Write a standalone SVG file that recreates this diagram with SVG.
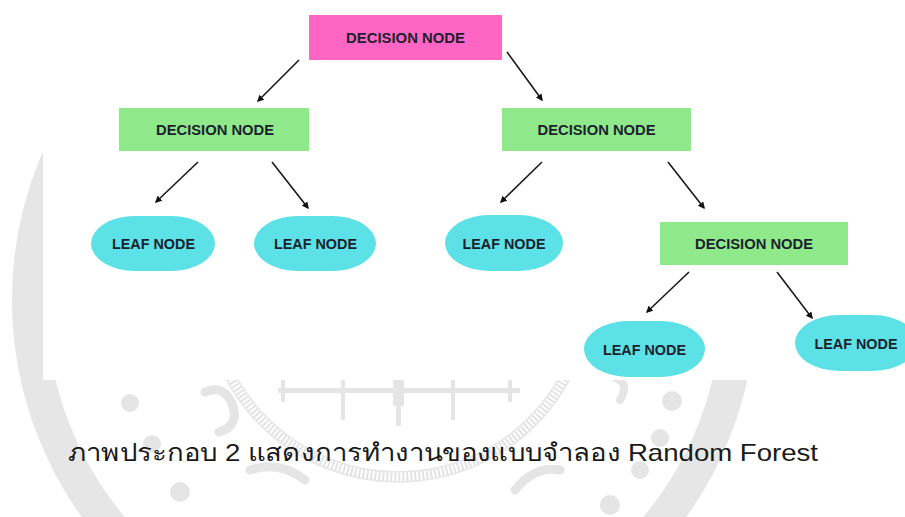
<svg xmlns="http://www.w3.org/2000/svg" width="905" height="517" viewBox="0 0 905 517">
  <style>
    .label { font-family: "Liberation Sans", Arial, sans-serif; font-weight: bold; font-size: 14.5px; fill: #1c1f2e; text-anchor: middle; }
    .decision { fill: #8fe98b; }
    .root { fill: #ff66c4; }
    .leaf { fill: #5ce1e6; }
    .edge { stroke: #1a1a1a; stroke-width: 1.6; fill: none; marker-end: url(#head); }
    .seal { fill: #e5e5e5; }
    .seal-stroke { fill: none; stroke: #e5e5e5; stroke-linecap: round; }
    .caption { font-family: "Liberation Sans", "Noto Sans", "DejaVu Sans", sans-serif; font-size: 24px; fill: #1a1a1a; }
  </style>
  <defs>
    <marker id="head" viewBox="0 0 10 10" refX="8" refY="5" markerWidth="7" markerHeight="7" markerUnits="userSpaceOnUse" orient="auto">
      <path d="M0,0 L10,5 L0,10 z" fill="#111"/>
    </marker>
  </defs>

  <rect width="905" height="517" fill="#ffffff"/>

  <!-- faint seal in the page background -->
  <g id="seal">
    <circle cx="384" cy="300" r="355" fill="none" stroke="#e6e6e6" stroke-width="34"/>
    <circle cx="398" cy="287" r="190" fill="none" stroke="#e3e3e3" stroke-width="9" stroke-dasharray="2 2"/>
    <circle cx="398" cy="287" r="185" fill="none" stroke="#e6e6e6" stroke-width="1.5"/>
    <circle cx="398" cy="287" r="195" fill="none" stroke="#e6e6e6" stroke-width="1.5"/>
    <rect class="seal" x="278" y="388" width="242" height="5"/>
    <rect class="seal" x="281" y="376" width="4" height="26"/>
    <rect class="seal" x="341" y="376" width="4" height="44"/>
    <rect class="seal" x="393" y="376" width="11" height="30"/>
    <rect class="seal" x="396" y="404" width="5" height="22"/>
    <rect class="seal" x="451" y="376" width="4" height="44"/>
    <rect class="seal" x="508" y="376" width="4" height="26"/>
    <circle class="seal" cx="130" cy="403" r="9"/>
    <circle class="seal" cx="152" cy="444" r="9"/>
    <circle class="seal" cx="180" cy="492" r="10"/>
    <circle class="seal" cx="672" cy="401" r="10"/>
    <circle class="seal" cx="660" cy="438" r="9"/>
    <circle class="seal" cx="640" cy="470" r="9"/>
    <circle class="seal" cx="610" cy="505" r="10"/>
    <path class="seal-stroke" stroke-width="9" d="M205,392 q20,-8 28,14 q6,20 -14,26"/>
    <path class="seal-stroke" stroke-width="9" d="M250,470 q30,-10 55,10"/>
    <path class="seal-stroke" stroke-width="9" d="M560,470 q-25,-5 -45,20"/>
    <path class="seal-stroke" stroke-width="8" d="M620,400 q10,-16 -4,-22"/>
  </g>

  <!-- white panel behind the tree -->
  <rect x="43" y="0" width="862" height="380" fill="#ffffff"/>

  <g id="connectors">
    <line class="edge" x1="299" y1="60" x2="258" y2="101"/>
    <line class="edge" x1="507" y1="52" x2="542" y2="100"/>
    <line class="edge" x1="198" y1="162" x2="156" y2="202"/>
    <line class="edge" x1="272" y1="162" x2="308" y2="208"/>
    <line class="edge" x1="542" y1="162" x2="501" y2="202"/>
    <line class="edge" x1="668" y1="162" x2="704" y2="208"/>
    <line class="edge" x1="689" y1="272" x2="647" y2="312"/>
    <line class="edge" x1="777" y1="272" x2="812" y2="318"/>
  </g>

  <g id="root">
    <rect class="root" x="309" y="15" width="193" height="45"/>
    <text class="label" x="405.5" y="43" textLength="119" lengthAdjust="spacingAndGlyphs">DECISION NODE</text>
  </g>

  <g id="decision-left">
    <rect class="decision" x="119" y="108" width="190" height="43"/>
    <text class="label" x="215" y="135" textLength="118" lengthAdjust="spacingAndGlyphs">DECISION NODE</text>
  </g>

  <g id="decision-right">
    <rect class="decision" x="502" y="108" width="189" height="43"/>
    <text class="label" x="596.5" y="135" textLength="118" lengthAdjust="spacingAndGlyphs">DECISION NODE</text>
  </g>

  <g id="decision-lower">
    <rect class="decision" x="660" y="222" width="188" height="43"/>
    <text class="label" x="754" y="249" textLength="118" lengthAdjust="spacingAndGlyphs">DECISION NODE</text>
  </g>

  <g id="leaf-1">
    <rect class="leaf" x="91" y="216" width="124" height="55" rx="44" ry="27.5"/>
    <text class="label" x="153.5" y="249" textLength="83" lengthAdjust="spacingAndGlyphs">LEAF NODE</text>
  </g>

  <g id="leaf-2">
    <rect class="leaf" x="254" y="216" width="122" height="55" rx="44" ry="27.5"/>
    <text class="label" x="315.5" y="249" textLength="83" lengthAdjust="spacingAndGlyphs">LEAF NODE</text>
  </g>

  <g id="leaf-3">
    <rect class="leaf" x="445" y="215" width="118" height="56" rx="44" ry="28"/>
    <text class="label" x="504" y="249" textLength="83" lengthAdjust="spacingAndGlyphs">LEAF NODE</text>
  </g>

  <g id="leaf-4">
    <rect class="leaf" x="584" y="321" width="121" height="56" rx="44" ry="28"/>
    <text class="label" x="644.5" y="355" textLength="83" lengthAdjust="spacingAndGlyphs">LEAF NODE</text>
  </g>

  <g id="leaf-5">
    <rect class="leaf" x="795" y="315" width="122" height="56" rx="44" ry="28"/>
    <text class="label" x="856" y="349" textLength="83" lengthAdjust="spacingAndGlyphs">LEAF NODE</text>
  </g>

  <text class="caption" x="68" y="461" textLength="750" lengthAdjust="spacingAndGlyphs">ภาพประกอบ 2 แสดงการทำงานของแบบจำลอง Random Forest</text>
</svg>
